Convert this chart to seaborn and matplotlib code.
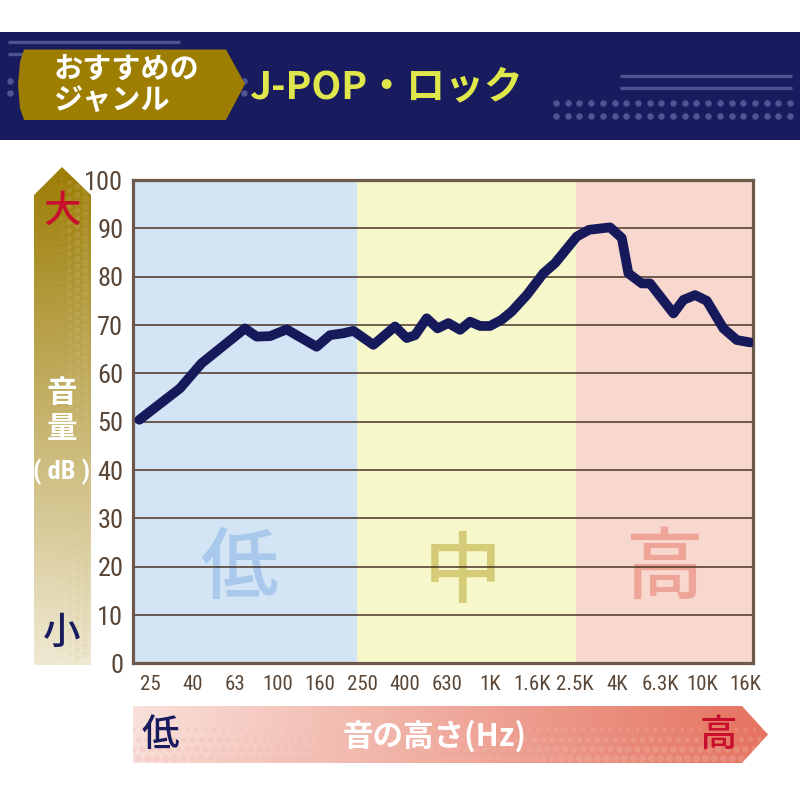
import numpy as np
import pandas as pd
import matplotlib
matplotlib.use("Agg")
import matplotlib.pyplot as plt
from matplotlib import font_manager
from matplotlib.colors import to_rgb
from matplotlib.patches import Polygon, Rectangle
import seaborn as sns

# position on the x axis in 1/3-octave steps (0 = 25Hz, 2 = 40Hz, ... 28 = 16kHz)
band_pos = [-0.50, 1.41, 2.43, 4.47, 5.02, 5.65, 6.43, 7.84, 8.47, 9.10, 9.57,
            10.51, 11.53, 12.08, 12.47, 13.02, 13.53, 14.04, 14.59, 15.06, 15.53,
            16.00, 16.55, 17.02, 17.73, 18.51, 19.06, 20.08, 20.66, 21.65, 22.20,
            22.51, 23.14, 23.53, 24.63, 25.10, 25.65, 26.20, 26.98, 27.61, 28.24]
level_db = [50.4, 56.9, 62.1, 69.3, 67.6, 67.7, 69.1, 65.5, 67.9, 68.3, 68.8,
            65.9, 69.7, 67.3, 67.9, 71.4, 69.3, 70.4, 69.0, 70.7, 69.8,
            69.8, 71.1, 72.8, 76.2, 80.7, 82.8, 88.3, 89.7, 90.2, 88.0,
            80.7, 78.6, 78.6, 72.4, 75.2, 76.2, 75.0, 69.3, 66.9, 66.4]

freq_labels = ["25", "40", "63", "100", "160", "250", "400", "630", "1K",
               "1.6K", "2.5K", "4K", "6.3K", "10K", "16K"]
freq_ticks = list(range(0, 29, 2))
db_ticks = list(range(0, 101, 10))

zone_names = ["低", "中", "高"]
zone_edges = [-0.8, 9.73, 20.05, 28.36]
zone_fill = ["#d3e4f5", "#f6f8cc", "#f8d7cf"]
zone_text = ["#a9c9ec", "#d6cb76", "#eea597"]

NAVY = "#181b5e"
BROWN = "#5a4637"

sns.set_theme(style="white")
names = {f.name for f in font_manager.fontManager.ttflist}
NUM_FONT = next((n for n in ["Liberation Sans Narrow", "Roboto Condensed"] if n in names), "DejaVu Sans")
JP = ["Noto Sans CJK JP", "DejaVu Sans"]
plt.rcParams["font.family"] = JP


def gradient_fill(ax, pts, c_start, c_end, horizontal):
    patch = Polygon(pts, closed=True, facecolor="none", edgecolor="none")
    ax.add_patch(patch)
    xs = [p[0] for p in pts]
    ys = [p[1] for p in pts]
    t = np.linspace(0, 1, 256)[:, None]
    c0, c1 = np.array(to_rgb(c_start)), np.array(to_rgb(c_end))
    grad = c0 + (c1 - c0) * t
    img = grad[None, :, :] if horizontal else grad[:, None, :]
    im = ax.imshow(img, extent=(min(xs), max(xs), max(ys), min(ys)),
                   aspect="auto", interpolation="bilinear", zorder=1)
    im.set_clip_path(patch)
    return patch


fig = plt.figure(figsize=(8, 8), dpi=100)

# ---- decoration layer in pixel coordinates ----
deco = fig.add_axes([0, 0, 1, 1])
deco.set_autoscale_on(False)
deco.set_xlim(0, 800)
deco.set_ylim(800, 0)
deco.axis("off")

# header band
deco.add_patch(Rectangle((0, 32), 800, 108, facecolor=NAVY, edgecolor="none", zorder=1))
for y in [41.5, 53.5]:
    deco.plot([8, 180], [y, y], color="#4d5391", lw=2.4, zorder=2, solid_capstyle="butt")
for y in [76, 88]:
    deco.plot([620, 792], [y, y], color="#4d5391", lw=2.4, zorder=2, solid_capstyle="butt")
for y in [103.3, 115.7]:
    xs = np.arange(556, 795, 11.7)
    deco.scatter(xs, [y] * len(xs), s=22, color="#4f5593", lw=0, zorder=2)
for y in [81, 93]:
    xs = np.arange(10, 255, 11.7)
    deco.scatter(xs, [y] * len(xs), s=22, color="#4f5593", lw=0, zorder=2)

tag = Polygon([(24, 49.5), (20, 62), (18, 85), (20, 108), (24, 120), (226, 120),
               (245, 84), (226, 49.5)], closed=True, facecolor="#9d7e00",
              edgecolor="none", zorder=3)
deco.add_patch(tag)
deco.text(54, 70, "おすすめの", color="white", fontsize=21, fontweight="bold",
          ha="left", va="center", zorder=4)
deco.text(54, 100, "ジャンル", color="white", fontsize=21, fontweight="bold",
          ha="left", va="center", zorder=4)
deco.text(249, 87, "J-POP・ロック", color="#dfe74b", fontsize=28, fontweight="bold",
          ha="left", va="center", zorder=4)

# left volume arrow
left_pts = [(34, 195), (62, 167), (91, 195), (91, 665), (34, 665)]
lp = gradient_fill(deco, left_pts, "#9c7d05", "#efe9d3", horizontal=False)
for i, cx in enumerate([61, 69, 77, 85]):
    ys = np.arange(178 + (i % 2) * 4, 662, 8)
    d = deco.scatter([cx] * len(ys), ys, s=4 + i * 7, color="#d6c68a", alpha=0.2,
                     lw=0, zorder=2)
    d.set_clip_path(lp)
deco.text(62, 211, "大", color="#c8102e", fontsize=27, fontweight="medium",
          ha="center", va="center", zorder=4)
deco.text(62, 393, "音", color="white", fontsize=22, fontweight="bold",
          ha="center", va="center", zorder=4)
deco.text(62, 429, "量", color="white", fontsize=22, fontweight="bold",
          ha="center", va="center", zorder=4)
deco.text(62, 472, "( dB )", color="white", fontsize=19, fontweight="bold",
          family=[NUM_FONT, "DejaVu Sans"], ha="center", va="center", zorder=4)
deco.text(62, 633, "小", color=NAVY, fontsize=27, fontweight="medium",
          ha="center", va="center", zorder=4)

# bottom pitch arrow
bot_pts = [(133, 706), (742, 706), (768, 734.5), (742, 763), (133, 763)]
bp = gradient_fill(deco, bot_pts, "#f9e0da", "#e5735f", horizontal=True)
for j, cy in enumerate([729, 739, 749, 758]):
    xs = np.arange(133 + (j % 2) * 4.5, 770, 9)
    d = deco.scatter(xs, [cy] * len(xs), s=6 + j * 8, color="#f2b8ac", alpha=0.3,
                     lw=0, zorder=2)
    d.set_clip_path(bp)
deco.text(160, 735, "低", color=NAVY, fontsize=27, fontweight="medium",
          ha="center", va="center", zorder=4)
deco.text(718, 735, "高", color="#c8102e", fontsize=27, fontweight="medium",
          ha="center", va="center", zorder=4)
deco.text(434, 736, "音の高さ(Hz)", color="white", fontsize=22, fontweight="bold",
          ha="center", va="center", zorder=4)

# ---- main chart ----
ax = fig.add_axes([133 / 800, (800 - 663.4) / 800, (752.7 - 133) / 800, (663.4 - 180) / 800])
ax.set_axisbelow(True)

for k, name in enumerate(zone_names):
    ax.axvspan(zone_edges[k], zone_edges[k + 1], color=zone_fill[k], lw=0, zorder=0)
zone_label_pos = [(4.24, 19.5), (14.7, 18.5), (24.2, 19.5)]
for k, name in enumerate(zone_names):
    ax.text(*zone_label_pos[k], name, color=zone_text[k], fontsize=56,
            fontweight="medium", ha="center", va="center", zorder=0.3)

df = pd.DataFrame({"band": band_pos, "db": level_db})
sns.lineplot(data=df, x="band", y="db", ax=ax, color="#161a5b", linewidth=7,
             sort=False, zorder=3)
ax.lines[-1].set_solid_capstyle("round")
ax.lines[-1].set_solid_joinstyle("round")

ax.set_xlim(zone_edges[0], zone_edges[-1])
ax.set_ylim(0, 100)
ax.set_yticks(db_ticks)
ax.set_xticks(freq_ticks, freq_labels)
ax.grid(axis="y", color="#4a3426", lw=1.1)
ax.grid(axis="x", visible=False)
ax.tick_params(axis="both", length=0, colors=BROWN)
ax.tick_params(axis="y", pad=7, labelsize=19)
ax.tick_params(axis="x", pad=8, labelsize=15)
for lab in ax.get_xticklabels() + ax.get_yticklabels():
    lab.set_family([NUM_FONT, "DejaVu Sans"])
ax.set_xlabel("")
ax.set_ylabel("")
for sp in ax.spines.values():
    sp.set_visible(True)
    sp.set_color("#6e5a4c")
    sp.set_linewidth(2.3)

fig.savefig("out.png", dpi=100)
